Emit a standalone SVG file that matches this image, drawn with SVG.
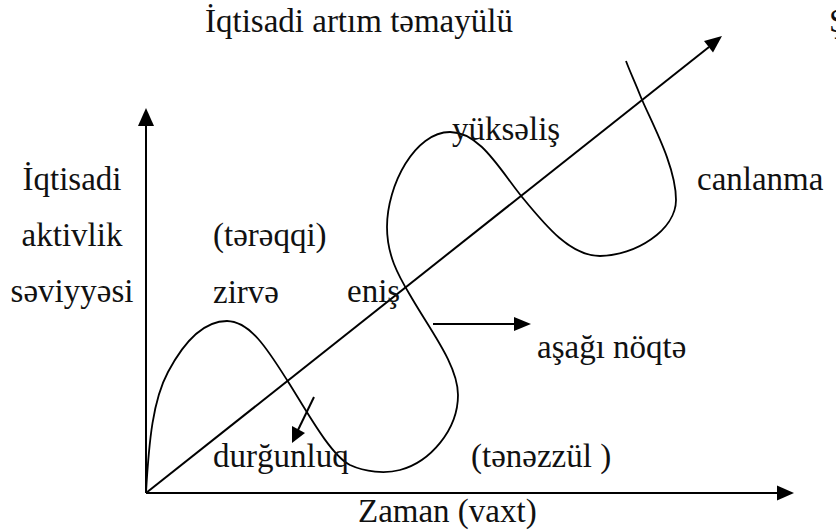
<svg xmlns="http://www.w3.org/2000/svg" width="836" height="532" viewBox="0 0 836 532">
<style>
  text { font-family: "Liberation Serif", "Times New Roman", serif; font-size: 33px; fill: #111; }
  .ln { stroke: #000; stroke-width: 2; fill: none; }
  .cv { stroke: #000; stroke-width: 1.8; fill: none; }
  .ah { fill: #000; stroke: none; }
</style>
<rect width="836" height="532" fill="#fff"/>
<g id="connectors">
  <line class="ln" x1="146" y1="493" x2="779" y2="493"/>
  <polygon class="ah" points="794,493 777,485.5 777,500.5"/>
  <line class="ln" x1="146" y1="493" x2="146" y2="124"/>
  <polygon class="ah" points="146,108 138,126 154,126"/>
  <line class="ln" x1="146" y1="493" x2="709" y2="47"/>
  <polygon class="ah" points="722,36 713,52.5 704,41"/>
  <line class="ln" x1="314" y1="397" x2="298" y2="430"/>
  <polygon class="ah" points="292,443 305,433 292,426"/>
  <line class="ln" x1="433" y1="324" x2="515" y2="324"/>
  <polygon class="ah" points="531,324 514,317 514,331"/>
  <path id="cycle" class="cv" d="M146,493 C149,440 153,400 168,372 C185,340 205,321 227,321 C250,321 268,350 287,380 C305,408 330,455 350,465 C365,472 385,474 400,470 C430,462 458,430 458,395 C458,365 430,330 410,295 C398,275 387,255 387,227 C387,185 415,132 450,132 C480,132 500,170 522,197 C545,225 570,256 600,256 C635,256 676,230 676,200 C676,165 650,120 640,95 C635,82 630,72 626,61"/>
</g>
<g id="title"><text x="205" y="32">İqtisadi artım təmayülü</text></g>
<g id="cut-letter"><text x="829" y="32">Ş</text></g>
<g id="y-label">
  <text x="72" y="190" text-anchor="middle">İqtisadi</text>
  <text x="72" y="246" text-anchor="middle">aktivlik</text>
  <text x="72" y="302" text-anchor="middle">səviyyəsi</text>
</g>
<g id="label-yukselis"><text x="452" y="140">yüksəliş</text></g>
<g id="label-canlanma"><text x="697" y="190">canlanma</text></g>
<g id="label-tereqqi"><text x="213" y="246">(tərəqqi)</text></g>
<g id="label-zirve"><text x="213" y="303">zirvə</text></g>
<g id="label-enis"><text x="347" y="302">eniş</text></g>
<g id="label-asagi"><text x="537" y="358">aşağı nöqtə</text></g>
<g id="label-durgunluq"><text x="213" y="467">durğunluq</text></g>
<g id="label-tenezzul"><text x="471" y="467">(tənəzzül )</text></g>
<g id="label-zaman"><text x="358" y="522">Zaman (vaxt)</text></g>
</svg>
